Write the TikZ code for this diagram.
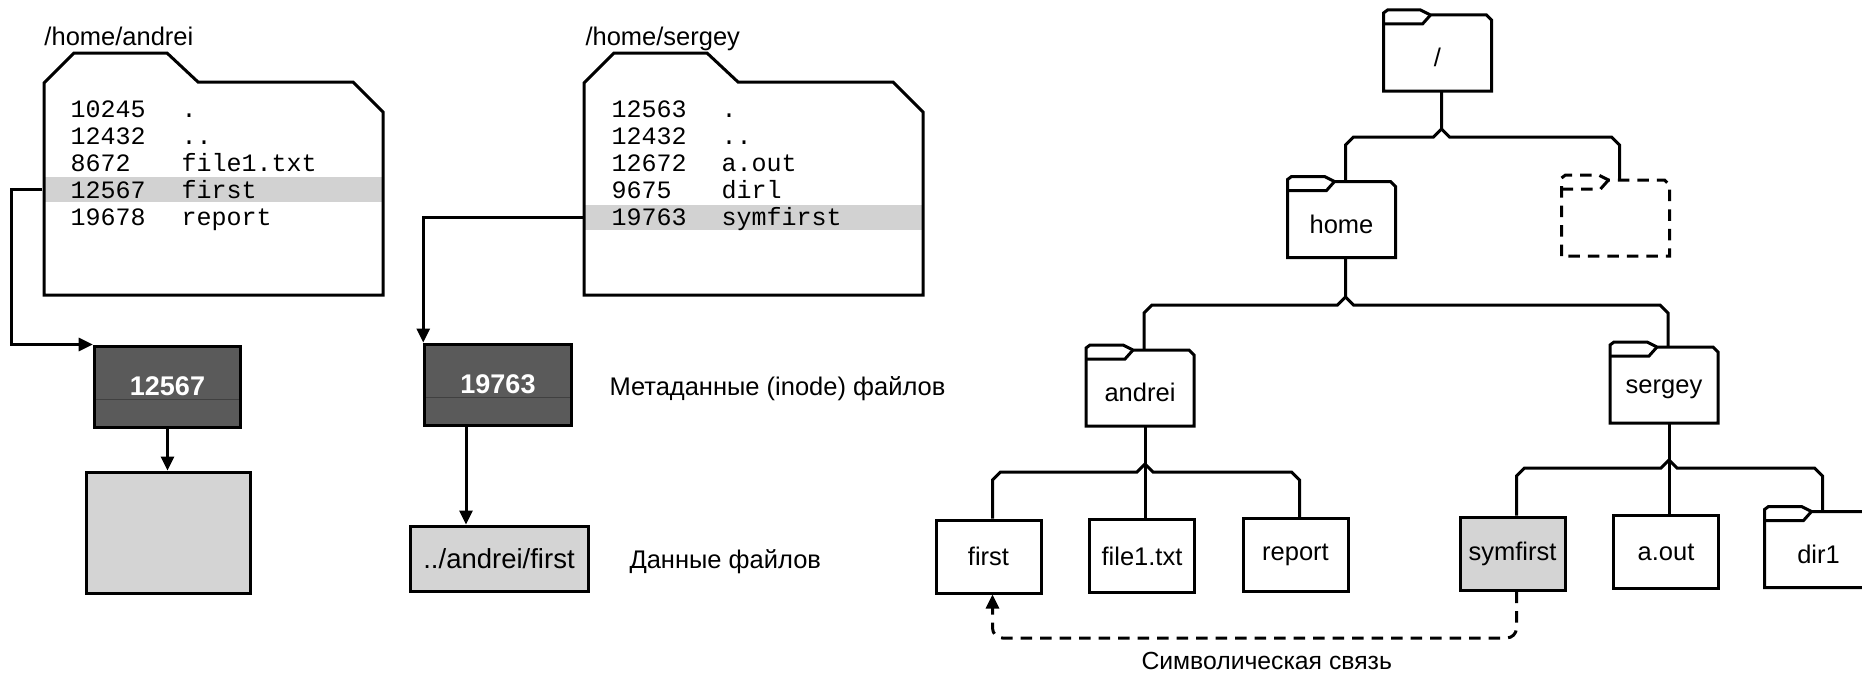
\documentclass[tikz,border=0pt]{standalone}
\usepackage{fontspec}
\setmainfont{Liberation Sans}
\setmonofont{Liberation Mono}
\usetikzlibrary{arrows.meta,calc}
\definecolor{inodegray}{HTML}{5A5A5A}
\definecolor{lightg}{HTML}{D4D4D4}
\definecolor{hlgray}{HTML}{D2D2D2}
\newcommand\drawfolder[2][]{%
  \draw[#1] (#2.south west) -- ($(#2.north west)+(0,-11)$) -- ($(#2.north west)+(4,-14)$)
    -- ($(#2.north west)+(37,-14)$) -- ($(#2.north west)+(47,-9)$)
    -- ($(#2.north east)+(-5,-9)$) -- ($(#2.north east)+(0,-4)$) -- (#2.south east) -- cycle;
  \draw[#1] (#2.north west) -- ($(#2.north west)+(39,0)$) -- ($(#2.north west)+(47,-9)$);}
\begin{document}
\begin{tikzpicture}[x=0.4pt,y=-0.4pt,line width=1.2pt,
  sans/.style={font=\fontsize{10.2}{12}\selectfont},
  lbl/.style={sans,inner sep=0pt,anchor=base west},
  mono/.style={font=\ttfamily\fontsize{10}{12}\selectfont,inner sep=0pt,anchor=base west},
  fbox/.style={draw,sans,inner sep=0pt,minimum width=42pt,minimum height=29.2pt},
  fnode/.style={sans,inner sep=0pt,minimum width=42pt,minimum height=25.6pt},
  inode/.style={draw,fill=inodegray,text=white,font=\bfseries\fontsize{10.8}{12}\selectfont,inner sep=0pt,minimum width=58.6pt,minimum height=32.4pt},
  datab/.style={draw,fill=lightg,inner sep=0pt,font=\fontsize{11}{13}\selectfont},
  hl/.style={fill=hlgray,inner sep=0pt,minimum width=135.2pt,minimum height=10pt},
  arr/.style={-{Triangle[length=5.6pt,width=5.2pt]}},
  dsh/.style={dash pattern=on 4.6pt off 3.2pt},
  tl/.style={line width=1.2pt,line join=miter}]
\useasboundingbox (0,0) rectangle (1862,673);
\clip (0,0) rectangle (1862,673);
\fill[white] (0,0) rectangle (1862,673);

% ---------- /home/andrei directory ----------
\node[lbl] (ha) at (43,45) {/home/andrei};
\node[hl] (rowA) at (213,189.5) {};
\draw (44,83) -- (74,53) -- (167,53) -- (198,82) -- (353,82) -- (383,112) -- (383,295) -- (44,295) -- cycle;
\node[mono] (a1n) at (69,117.5) {10245};   \node[mono] (a1f) at (180,117.5) {.};
\node[mono] (a2n) at (69,144.5) {12432};   \node[mono] (a2f) at (180,144.5) {..};
\node[mono] (a3n) at (69,171.5) {8672};    \node[mono] (a3f) at (180,171.5) {file1.txt};
\node[mono] (a4n) at (69,198) {12567};     \node[mono] (a4f) at (180,198) {first};
\node[mono] (a5n) at (69,225.5) {19678};   \node[mono] (a5f) at (180,225.5) {report};

% ---------- /home/sergey directory ----------
\node[lbl] (hs) at (584,45) {/home/sergey};
\node[hl] (rowS) at (753,217.5) {};
\draw (584,83) -- (614,53) -- (707,53) -- (738,82) -- (893,82) -- (923,112) -- (923,295) -- (584,295) -- cycle;
\node[mono] (s1n) at (610,117.5) {12563};  \node[mono] (s1f) at (720,117.5) {.};
\node[mono] (s2n) at (610,144.5) {12432};  \node[mono] (s2f) at (720,144.5) {..};
\node[mono] (s3n) at (610,171.5) {12672};  \node[mono] (s3f) at (720,171.5) {a.out};
\node[mono] (s4n) at (610,198) {9675};     \node[mono] (s4f) at (720,198) {dirl};
\node[mono] (s5n) at (610,225.5) {19763};  \node[mono] (s5f) at (720,225.5) {symfirst};

% ---------- inodes and data ----------
\node[inode] (ino1) at (167.5,386.5) {12567};
\node[inode] (ino2) at (498,384.5) {19763};
\draw[line width=0.7pt,black!75] ($(ino1.west)+(3,13)$) -- ($(ino1.east)+(-3,13)$);
\draw[line width=0.7pt,black!75] ($(ino2.west)+(3,13)$) -- ($(ino2.east)+(-3,13)$);
\node[datab,minimum width=65.2pt,minimum height=48.4pt] (data1) at (168.5,532.5) {};
\node[datab,minimum width=71.2pt,minimum height=26pt] (data2) at (499,558.5) {../andrei/first};

\draw[arr] (rowA.west) -- ++(-31,0) |- (ino1.north west);
\draw[arr] (rowS.west) -| (ino2.north west);
\draw[arr] (ino1.south) -- (ino1.south |- data1.north);
\draw[arr] ($(ino2.south)+(-32,0)$) -- ($(ino2.south |- data2.north)+(-32,0)$);

\node[lbl] (meta) at (608,395) {Метаданные (inode) файлов};
\node[lbl] (datal) at (628,568) {Данные файлов};

% ---------- tree ----------
\node[fnode] (root) at (1437.5,57.5) {/};
\node[fnode] (home) at (1341.5,224) {home};
\node[fnode] (dash) at (1615.5,222.5) {};
\node[fnode] (andrei) at (1140,392.5) {andrei};
\node[fnode] (sergey) at (1664,389.5) {sergey};
\node[fnode] (dir1) at (1818.5,554) {dir1};
\drawfolder{root}
\drawfolder{home}
\drawfolder[dsh]{dash}
\drawfolder{andrei}
\drawfolder{sergey}
\drawfolder{dir1}

\node[fbox] (first) at (988.5,556.5) {first};
\node[fbox] (file1) at (1142,556) {file1.txt};
\node[fbox] (report) at (1295.5,555) {report};
\node[fbox,fill=lightg] (symf) at (1512.5,553.5) {symfirst};
\node[fbox] (aout) at (1666,552) {a.out};

\coordinate (bus1) at (0,137);
\coordinate (bus2) at (0,305);
\coordinate (bus3) at (0,472);
\coordinate (bus4) at (0,468);

% root -> home, (dashed)
\draw[tl] ($(root.south)+(4,0)$) -- ($(root.south|-bus1)+(4,-8)$) -- ++(-8,8)
  -- ($(home.north|-bus1)+(12,0)$) -- ++(-8,8) -- ($(home.north)+(4,-9)$);
\draw[tl] ($(root.south|-bus1)+(4,-8)$) -- ++(8,8)
  -- ($(dash.north|-bus1)+(-4,0)$) -- ++(8,8) -- ($(dash.north)+(4,-9)$);
% home -> andrei, sergey
\draw[tl] ($(home.south)+(4,0)$) -- ($(home.south|-bus2)+(4,-8)$) -- ++(-8,8)
  -- ($(andrei.north|-bus2)+(12,0)$) -- ++(-8,8) -- ($(andrei.north)+(4,-9)$);
\draw[tl] ($(home.south|-bus2)+(4,-8)$) -- ++(8,8)
  -- ($(sergey.north|-bus2)+(-4,0)$) -- ++(8,8) -- ($(sergey.north)+(4,-9)$);
% andrei -> first, file1.txt, report
\draw[tl] ($(andrei.south)+(5,0)$) -- ($(andrei.south|-file1.north)+(5,0)$);
\draw[tl] ($(andrei.south|-bus3)+(5,-8)$) -- ++(-8,8)
  -- ($(first.north|-bus3)+(12,0)$) -- ++(-8,8) -- ($(first.north)+(4,0)$);
\draw[tl] ($(andrei.south|-bus3)+(5,-8)$) -- ++(8,8)
  -- ($(report.north|-bus3)+(-4,0)$) -- ++(8,8) -- ($(report.north)+(4,0)$);
% sergey -> symfirst, a.out, dir1
\draw[tl] ($(sergey.south)+(5,0)$) -- ($(sergey.south|-aout.north)+(5,0)$);
\draw[tl] ($(sergey.south|-bus4)+(5,-8)$) -- ++(-8,8)
  -- ($(symf.north|-bus4)+(12,0)$) -- ++(-8,8) -- ($(symf.north)+(4,0)$);
\draw[tl] ($(sergey.south|-bus4)+(5,-8)$) -- ++(8,8)
  -- ($(dir1.north|-bus4)+(-4,0)$) -- ++(8,8) -- ($(dir1.north)+(4,-9)$);

% symbolic link
\coordinate (sl) at (0,638);
\draw[arr,dsh,rounded corners=4pt] ($(symf.south)+(4,0)$) -- ($(symf.south|-sl)+(4,0)$)
  -- ($(first.south|-sl)+(4,0)$) -- ($(first.south)+(4,0)$);
\node[lbl,font=\fontsize{9.9}{12}\selectfont] (symlbl) at (1140,669) {Символическая связь};
\end{tikzpicture}
\end{document}
